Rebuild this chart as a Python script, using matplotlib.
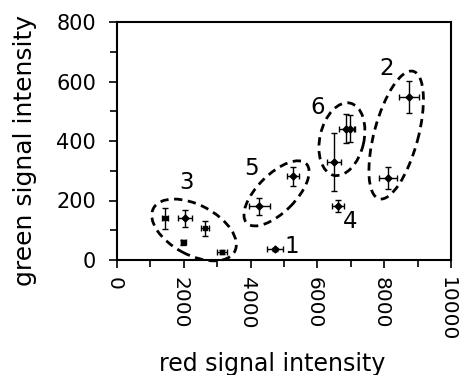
import matplotlib
matplotlib.use("Agg")
import matplotlib.pyplot as plt
from matplotlib.patches import Ellipse
from matplotlib.transforms import ScaledTranslation
from matplotlib.ticker import MultipleLocator

# data (red, green, x-error, y-error, marker)
red   = [1440, 2040, 2620, 1990, 3130, 4730, 4260, 5270, 6620, 6500, 6870, 6990, 8740, 8110]
green = [140, 140, 106, 59, 26, 36, 181, 282, 181, 330, 442, 442, 548, 276]
xerr  = [80, 200, 120, 80, 150, 250, 320, 170, 180, 210, 225, 150, 300, 260]
yerr  = [35, 28, 25, 8, 6, 6, 29, 32, 20, 98, 49, 45, 55, 36]
markers = ['s', 'D', 's', 's', 's', 'D', 'D', 'D', 'D', 'D', 'D', 'D', 'D', 'D']

group_labels = ['1', '2', '3', '4', '5', '6']
label_x = [5240, 8080, 2090, 6990, 4030, 6020]
label_y = [45, 644, 262, 129, 308, 513]

# group ellipses: center (data), width/height (px), angle (deg)
ell_cx = [2307, 4776, 6734, 8358]
ell_cy = [101, 224, 406, 420]
ell_w = [92, 84, 74, 132]
ell_h = [50, 38, 44, 44]
ell_ang = [-28, 45, 77, 75]

xticks = [0, 2000, 4000, 6000, 8000, 10000]
yticks = [0, 200, 400, 600, 800]

plt.rcParams['font.family'] = ['DejaVu Sans']
fig = plt.figure(figsize=(4.59, 3.75), dpi=100)
ax = fig.add_axes([117/459, 1-260/375, 334/459, 238/375])

for xi, yi, xe, ye, m in zip(red, green, xerr, yerr, markers):
    ax.errorbar(xi, yi, xerr=xe, yerr=ye, fmt=m, color='black', markersize=3.5,
                elinewidth=1, capsize=2.5, capthick=1)

for cx, cy, w, h, a in zip(ell_cx, ell_cy, ell_w, ell_h, ell_ang):
    tr = fig.dpi_scale_trans + ScaledTranslation(cx, cy, ax.transData)
    e = Ellipse((0, 0), w/100, h/100, angle=a, transform=tr, fill=False,
                edgecolor='black', linewidth=2, linestyle=(0, (3, 2)), clip_on=False)
    ax.add_patch(e)

for t, lx, ly in zip(group_labels, label_x, label_y):
    ax.text(lx, ly, t, fontsize=16.5, ha='center', va='center')

ax.set_xlim(0, 10000)
ax.set_ylim(0, 800)
ax.set_xticks(xticks)
ax.set_xticklabels([str(v) for v in xticks], rotation=270, fontsize=14.5)
ax.xaxis.set_minor_locator(MultipleLocator(1000))
ax.set_yticks(yticks)
ax.set_yticklabels([str(v) for v in yticks], fontsize=15)
ax.yaxis.set_minor_locator(MultipleLocator(100))
ax.tick_params(which='major', direction='out', length=6, width=1.2)
ax.tick_params(which='minor', direction='out', length=5, width=1.2)
ax.tick_params(axis='y', which='major', pad=9)
ax.tick_params(axis='x', which='major', pad=6)
for lab in ax.get_xticklabels():
    lab.set_transform(lab.get_transform() + ScaledTranslation(-2.4/72, 0, fig.dpi_scale_trans))
for s in ax.spines.values():
    s.set_linewidth(1.5)

ax.set_xlabel('red signal intensity', fontsize=17)
ax.xaxis.set_label_coords(0.465, -0.387)
ax.set_ylabel('green signal intensity', fontsize=18)
ax.yaxis.set_label_coords(-0.239, 0.46)

fig.savefig('out.png', dpi=100)
